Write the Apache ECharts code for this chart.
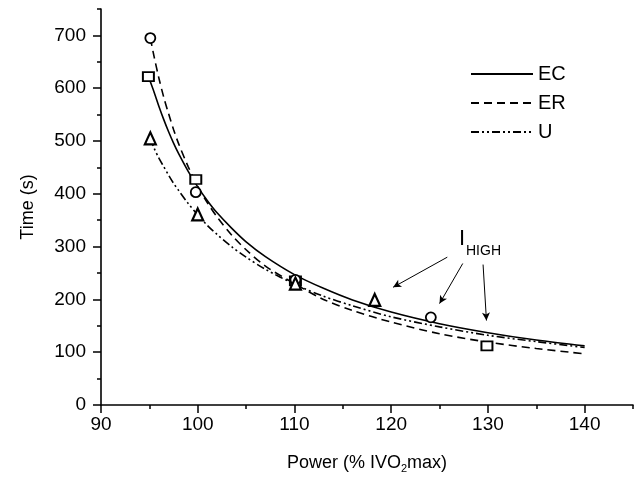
<!DOCTYPE html>
<html><head><meta charset="utf-8">
<script src="https://cdn.jsdelivr.net/npm/echarts@6/dist/echarts.min.js"></script>
<style>html,body{margin:0;padding:0;background:#fff}#c{width:638px;height:479px}</style>
</head><body><div id="c"></div>
<script>
// ---- data ----
const xMajorTicks = [90, 100, 110, 120, 130, 140];
const yMajorTicks = [0, 100, 200, 300, 400, 500, 600, 700];
const seriesNames = ['EC', 'ER', 'U'];
// fitted curves
const ecCurveX = [94.9, 95.5, 96, 96.5, 97, 97.5, 98, 99, 100, 101, 102, 103.5, 105, 107, 110, 113, 116, 120, 125, 130, 135, 140];
const ecCurveY = [622, 592, 565, 540, 517, 496, 477, 443, 413, 387, 364, 335, 309, 281, 247, 221, 199, 176, 154, 137, 123, 112];
const erCurveX = [95.1, 95.5, 96, 96.5, 97, 97.5, 98, 99, 100, 101, 102, 103.5, 105, 107, 110, 113, 116, 120, 125, 130, 135, 140];
const erCurveY = [695, 659, 618, 582, 551, 522, 496, 452, 414, 383, 356, 322, 294, 263, 230, 200, 179, 157, 135, 119, 107, 97];
const uCurveX = [95.1, 95.5, 96, 96.5, 97, 97.5, 98, 99, 100, 101, 102, 103.5, 105, 107, 110, 113, 116, 120, 125, 130, 135, 140];
const uCurveY = [505, 486, 467, 451, 435, 420, 407, 382, 360, 340, 323, 300, 280, 257, 229, 206, 188, 167, 148, 132, 120, 109];
// measured points
const ecPointX = [94.9, 99.8, 110.1, 129.9];
const ecPointY = [622, 427, 235, 112];
const erPointX = [95.1, 99.8, 110.1, 124.1];
const erPointY = [695, 403, 237, 166];
const uPointX = [95.1, 100.0, 110.1, 118.3];
const uPointY = [505, 361, 230, 199];
// I_HIGH arrows (data coords)
const arrowFrom = [[125.8, 280], [127.4, 268], [129.5, 266]];
const arrowTo = [[120.2, 223], [125.0, 192], [129.85, 160]];

const zip = (xs, ys) => xs.map((x, i) => [x, ys[i]]);
const FONT = '"Liberation Sans", Arial, Helvetica, sans-serif';

const chart = echarts.init(document.getElementById('c'), null, {renderer: 'canvas'});

const lineBase = {type: 'line', smooth: 0.3, symbol: 'none', xAxisIndex: 0, yAxisIndex: 0, z: 3};
const ptBase = {type: 'scatter', xAxisIndex: 0, yAxisIndex: 0, z: 4,
  itemStyle: {color: '#fff', borderColor: '#000', borderWidth: 1.8, opacity: 1}};

chart.setOption({
  animation: false,
  backgroundColor: '#fff',
  textStyle: {fontFamily: FONT, color: '#000'},
  grid: {left: 101, right: 5, top: 9, bottom: 74, containLabel: false},
  legend: {
    data: seriesNames, orient: 'vertical', left: 465, top: 59,
    itemWidth: 62, itemHeight: 14, itemGap: 9,
    itemStyle: {color: 'transparent', borderColor: 'transparent', borderWidth: 0, opacity: 0},
    textStyle: {fontFamily: FONT, fontSize: 20, color: '#000'}
  },
  xAxis: [
    {type: 'value', min: 90, max: 145, interval: 5, position: 'bottom',
     axisLine: {show: true, lineStyle: {color: '#000', width: 1.6}},
     axisTick: {show: true, length: 4, lineStyle: {color: '#000', width: 1.5}},
     axisLabel: {show: false}, splitLine: {show: false}},
    {type: 'value', min: 90, max: 145, interval: 10, position: 'bottom',
     axisLine: {show: false},
     axisTick: {show: true, length: 8, customValues: xMajorTicks, lineStyle: {color: '#000', width: 1.5}},
     axisLabel: {show: true, margin: 10, fontSize: 19, fontFamily: FONT, color: '#000', customValues: xMajorTicks,
       formatter: v => (xMajorTicks.indexOf(v) >= 0 ? String(v) : '')},
     splitLine: {show: false},
     name: 'Power (% IVO{s|2}max)', nameLocation: 'middle', nameGap: 47,
     nameTextStyle: {fontFamily: FONT, fontSize: 18, color: '#000', lineHeight: 22,
       rich: {s: {fontSize: 11, fontFamily: FONT, color: '#000', verticalAlign: 'bottom', lineHeight: 11, padding: [8, 0, 0, 0]}}}}
  ],
  yAxis: [
    {type: 'value', min: 0, max: 750, interval: 50, position: 'left',
     axisLine: {show: true, lineStyle: {color: '#000', width: 1.6}},
     axisTick: {show: true, length: 4, lineStyle: {color: '#000', width: 1.5}},
     axisLabel: {show: false}, splitLine: {show: false}},
    {type: 'value', min: 0, max: 750, interval: 100, position: 'left',
     axisLine: {show: false},
     axisTick: {show: true, length: 8, customValues: yMajorTicks, lineStyle: {color: '#000', width: 1.5}},
     axisLabel: {show: true, margin: 15, fontSize: 19, fontFamily: FONT, color: '#000', customValues: yMajorTicks,
       formatter: v => (yMajorTicks.indexOf(v) >= 0 ? String(v) : '')},
     splitLine: {show: false},
     name: 'Time (s)', nameLocation: 'middle', nameGap: 64,
     nameTextStyle: {fontFamily: FONT, fontSize: 18, color: '#000'}}
  ],
  series: [
    Object.assign({}, lineBase, {name: 'EC', data: zip(ecCurveX, ecCurveY),
      lineStyle: {color: '#000', width: 1.6, type: 'solid'}, itemStyle: {color: '#000'}}),
    Object.assign({}, lineBase, {name: 'ER', data: zip(erCurveX, erCurveY),
      lineStyle: {color: '#000', width: 1.6, type: [8, 5]}, itemStyle: {color: '#000'}}),
    Object.assign({}, lineBase, {name: 'U', data: zip(uCurveX, uCurveY),
      lineStyle: {color: '#000', width: 1.6, type: [8, 3, 2, 3, 2, 3]}, itemStyle: {color: '#000'}}),
    Object.assign({}, ptBase, {name: 'EC pts', symbol: 'rect', symbolSize: [11, 9], data: zip(ecPointX, ecPointY),
      markLine: {silent: true, symbol: ['none', 'arrow'], symbolSize: [6, 8],
        label: {show: false}, lineStyle: {color: '#000', width: 1, type: 'solid', opacity: 1},
        data: arrowFrom.map((f, i) => [{coord: f}, {coord: arrowTo[i]}])}}),
    Object.assign({}, ptBase, {name: 'ER pts', symbol: 'circle', symbolSize: 10, data: zip(erPointX, erPointY)}),
    Object.assign({}, ptBase, {name: 'U pts', symbol: 'triangle', symbolSize: [11, 12], data: zip(uPointX, uPointY),
      itemStyle: {color: '#fff', borderColor: '#000', borderWidth: 2.2, opacity: 1}})
  ],
  graphic: [
    {type: 'text', left: 459, top: 228, z: 10,
     style: {text: 'I', fontSize: 22, fontFamily: FONT, fill: '#000'}},
    {type: 'text', left: 466, top: 244, z: 10,
     style: {text: 'HIGH', fontSize: 14, fontFamily: FONT, fill: '#000'}}
  ]
});
</script></body></html>
